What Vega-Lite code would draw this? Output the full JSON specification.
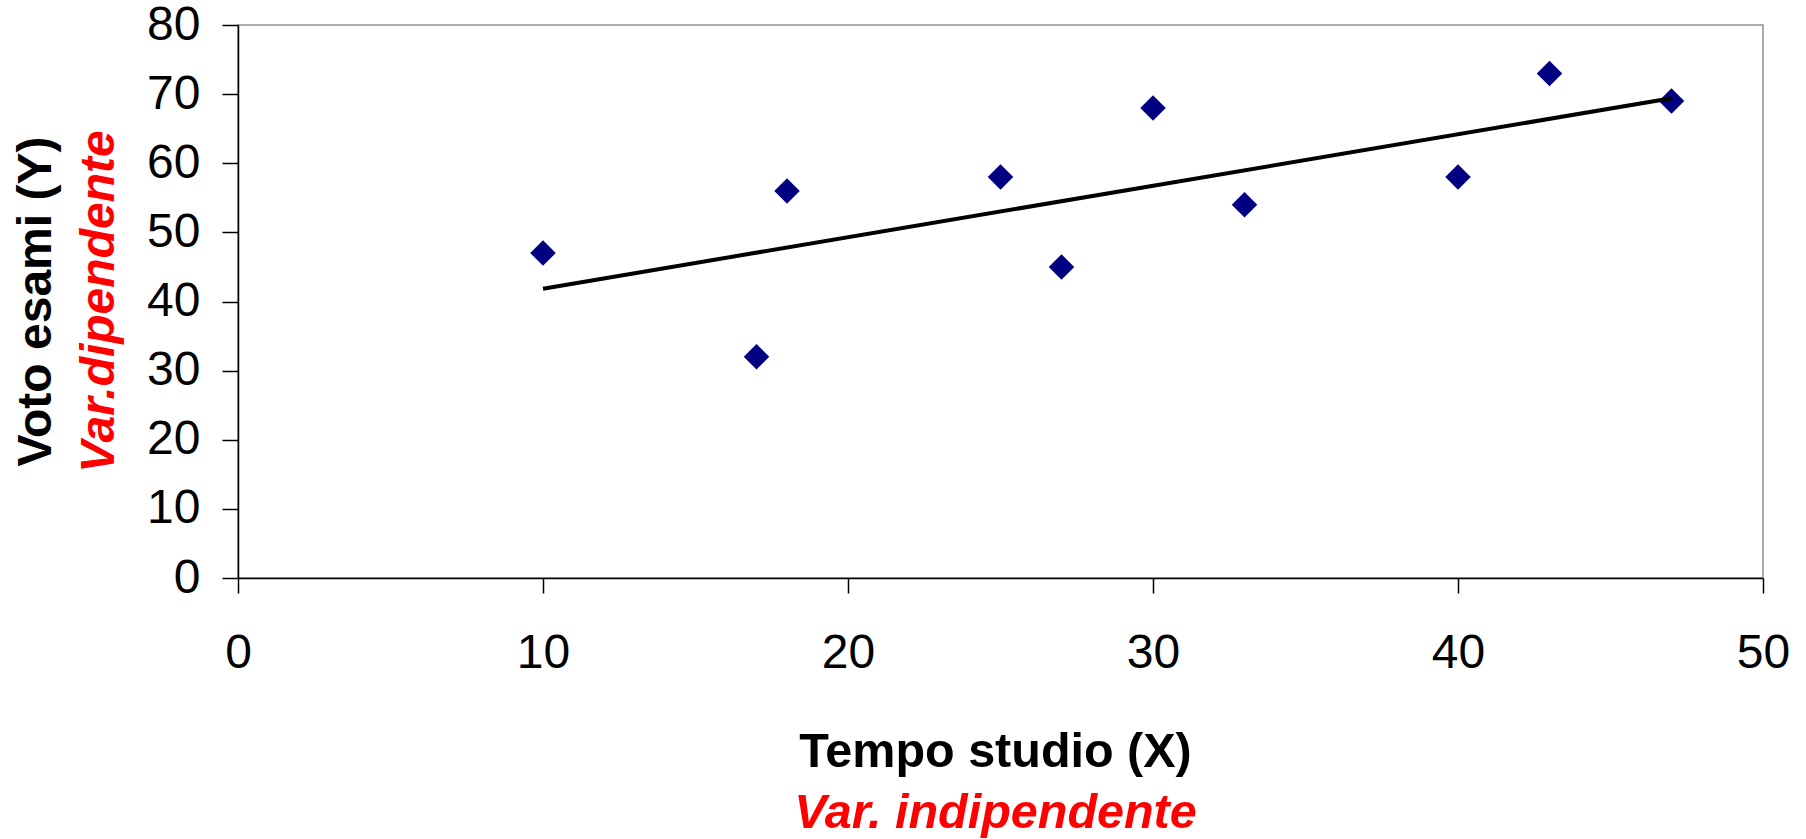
{
  "$schema": "https://vega.github.io/schema/vega-lite/v6.json",
  "width": 1525,
  "height": 553,
  "autosize": "none",
  "padding": {"left": 238, "top": 25, "right": 43, "bottom": 261},
  "background": "white",
  "config": {
    "font": "Liberation Sans",
    "view": {"stroke": "#909090", "strokeWidth": 1.5},
    "axis": {"grid": false, "labelFont": "Liberation Sans", "titleFont": "Liberation Sans"}
  },
  "data": {
    "values": [
      {"tempo": 10, "voto": 47},
      {"tempo": 17, "voto": 32},
      {"tempo": 18, "voto": 56},
      {"tempo": 25, "voto": 58},
      {"tempo": 27, "voto": 45},
      {"tempo": 30, "voto": 68},
      {"tempo": 33, "voto": 54},
      {"tempo": 40, "voto": 58},
      {"tempo": 43, "voto": 73},
      {"tempo": 47, "voto": 69}
    ]
  },
  "resolve": {"axis": {"x": "independent", "y": "independent"}},
  "layer": [
    {
      "mark": {"type": "point", "shape": "diamond", "filled": true, "color": "#000080", "opacity": 1, "size": 650},
      "encoding": {
        "x": {
          "field": "tempo", "type": "quantitative",
          "scale": {"domain": [0, 50], "nice": false, "zero": false},
          "axis": {
            "orient": "bottom",
            "values": [0, 10, 20, 30, 40, 50],
            "domainColor": "black", "domainWidth": 1.5,
            "tickColor": "black", "tickWidth": 1.5, "tickSize": 15,
            "labelFontSize": 48, "labelColor": "black", "labelPadding": 36,
            "labelFlush": false, "labelOverlap": false,
            "title": "Tempo studio (X)",
            "titleFontSize": 48.5, "titleFontWeight": "bold", "titleColor": "black",
            "titleX": 757, "titleY": 188, "titleAlign": "center", "titleBaseline": "alphabetic"
          }
        },
        "y": {
          "field": "voto", "type": "quantitative",
          "scale": {"domain": [0, 80], "nice": false},
          "axis": {
            "orient": "left",
            "values": [0, 10, 20, 30, 40, 50, 60, 70, 80],
            "domainColor": "black", "domainWidth": 1.5,
            "tickColor": "black", "tickWidth": 1.5, "tickSize": 16,
            "labelFontSize": 48, "labelColor": "black", "labelPadding": 22,
            "labelFlush": false, "labelOverlap": false,
            "title": "Voto esami (Y)",
            "titleFontSize": 48, "titleFontWeight": "bold", "titleColor": "black",
            "titleAngle": 270, "titleX": -188, "titleY": 276, "titleAlign": "center", "titleBaseline": "alphabetic"
          }
        }
      }
    },
    {
      "transform": [{"regression": "voto", "on": "tempo"}],
      "mark": {"type": "line", "color": "black", "strokeWidth": 4},
      "encoding": {
        "x": {
          "field": "tempo", "type": "quantitative",
          "axis": {
            "orient": "bottom", "domain": false, "ticks": false, "labels": false,
            "title": "Var. indipendente",
            "titleFontSize": 48.5, "titleFontWeight": "bold", "titleFontStyle": "italic", "titleColor": "#FF0000",
            "titleX": 757, "titleY": 249, "titleAlign": "center", "titleBaseline": "alphabetic"
          }
        },
        "y": {
          "field": "voto", "type": "quantitative",
          "axis": {
            "orient": "left", "domain": false, "ticks": false, "labels": false,
            "title": "Var.dipendente",
            "titleFontSize": 48, "titleFontWeight": "bold", "titleFontStyle": "italic", "titleColor": "#FF0000",
            "titleAngle": 270, "titleX": -125, "titleY": 276, "titleAlign": "center", "titleBaseline": "alphabetic"
          }
        }
      }
    }
  ]
}
